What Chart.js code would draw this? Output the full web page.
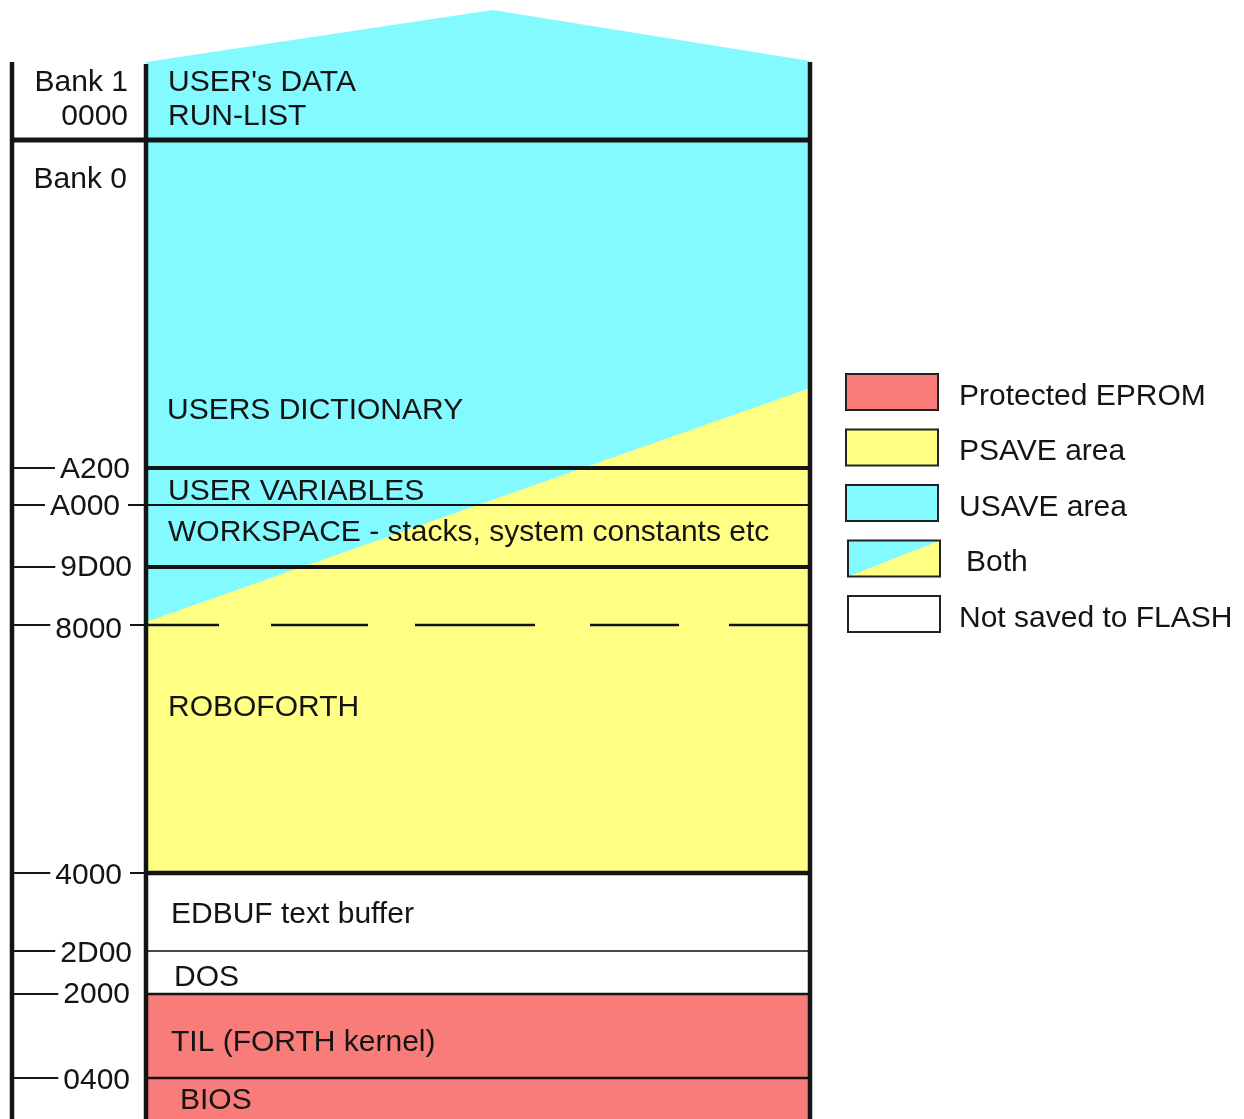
<!DOCTYPE html>
<html>
<head>
<meta charset="utf-8">
<title>Memory map</title>
<script src="https://cdn.jsdelivr.net/npm/chart.js@4.4.1/dist/chart.umd.min.js"></script>
<style>
  html, body { margin: 0; padding: 0; background: #ffffff; overflow: hidden; }
  canvas { display: block; }
</style>
</head>
<body>
<canvas id="map" width="1244" height="1119"></canvas>
<script>
// ---------------- DATA ----------------
// Vertical extents are in "diagram units" counted down from the top of the drawing
// (the memory map is not drawn to scale, so addresses cannot be used directly).
const regionNames   = [["USER's DATA", "RUN-LIST"], ["USERS DICTIONARY"], ["USER VARIABLES"],
                       ["WORKSPACE - stacks, system constants etc"], [], ["ROBOFORTH"],
                       ["EDBUF text buffer"], ["DOS"], ["TIL (FORTH kernel)"], ["BIOS"]];
const regionTop     = [62, 140, 468, 505, 567, 625, 873, 951, 994, 1078];
const regionBottom  = [140, 468, 505, 567, 625, 873, 951, 994, 1078, 1119];
const regionKind    = ["usave", "both", "both", "both", "both", "psave", "none", "none", "eprom", "eprom"];

const addressLabels = [["Bank 1", "0000"], ["Bank 0"], ["A200"], ["A000"], ["9D00"], ["8000"],
                       ["4000"], ["2D00"], ["2000"], ["0400"]];
const addressAt     = [62, 140, 468, 505, 567, 625, 873, 951, 994, 1078];

const legendLabels  = ["Protected EPROM", "PSAVE area", "USAVE area", "Both", "Not saved to FLASH"];
const legendKinds   = ["eprom", "psave", "usave", "both", "none"];

// USAVE / PSAVE split line: its height at the left and at the right edge of the column
const bothSplit     = [622, 388];
// top "torn" edge of bank 1: [fraction across column, height]
const roofPeak      = [0.522, 10];
const roofEnds      = [62, 61];

// ---------------- STYLE ----------------
const CYAN = "#82FAFF", YELLOW = "#FFFF84", RED = "#F87C7A", WHITE = "#FFFFFF", INK = "#141414";
const FONT_FAMILY = '"Liberation Sans", Arial, sans-serif';
const FONT_SIZE = 30;
const kindColor = { usave: CYAN, psave: YELLOW, eprom: RED, none: WHITE };

// boundary line styles (one per addressAt entry)
const lineStyle = [
  null,
  { w: 5, toAxis: true },
  { w: 4 },
  { w: 2 },
  { w: 4 },
  { w: 2.5, dash: [73, 52, 97, 47, 120, 55, 89, 50, 300] },
  { w: 4.5 },
  { w: 2, color: "#4a4a4a" },
  { w: 2.5 },
  { w: 2.5 }
];
// label text anchors (cap-centre heights) and indents inside the column
const regionTextY  = [[80, 114], [408], [489], [530], [], [705], [912], [975], [1040], [1098]];
const regionTextDx = [22, 21, 22, 22, 0, 22, 25, 28, 25, 34];
// address labels: right edge offset from column, cap-centre heights, right tick?
const addrRightGap = [18, 19, 16, 26, 14, 24, 24, 14, 16, 16];
const addrTextY    = [[80, 114], [177], [467], [504], [565], [627], [873], [951], [992], [1078]];
const addrRightTick = [false, false, false, true, false, true, true, false, false, false];

const AXIS_GAP = 134;          // distance from the left axis line to the column
const LEGEND = { dx: 36, top: 374, step: 55.5, boxW: 92, boxH: 36, textDx: 113 };

// ---------------- helpers ----------------
function splitGradient(ctx, x0, y0, x1, y1) {
  const dx = x1 - x0, dy = y1 - y0, len = Math.hypot(dx, dy);
  const nx = -dy / len, ny = dx / len;
  const mx = (x0 + x1) / 2, my = (y0 + y1) / 2, L = 3000;
  const g = ctx.createLinearGradient(mx - nx * L, my - ny * L, mx + nx * L, my + ny * L);
  g.addColorStop(0, CYAN); g.addColorStop(0.5, CYAN);
  g.addColorStop(0.5, YELLOW); g.addColorStop(1, YELLOW);
  return g;
}

function capY(y) { return y + FONT_SIZE * 0.358; } // cap-centre -> alphabetic baseline

const datasets = regionNames.map((name, i) => ({
  label: name.join(" ") || "9D00-8000",
  data: [[regionTop[i], regionBottom[i]]],
  backgroundColor: (c) => {
    const kind = regionKind[i];
    if (kind !== "both") return kindColor[kind];
    const ch = c.chart, area = ch.chartArea;
    if (!area) return CYAN;
    const ys = ch.scales.y;
    return splitGradient(ch.ctx, area.left, ys.getPixelForValue(bothSplit[0]),
                         area.right, ys.getPixelForValue(bothSplit[1]));
  },
  borderWidth: 0,
  barPercentage: 1,
  categoryPercentage: 1,
  grouped: false,
  inflateAmount: 0
}));

const memoryMapPlugin = {
  id: "memoryMap",
  beforeDatasetsDraw(chart) {
    const { ctx, chartArea: a, scales: { y } } = chart;
    // torn top of bank 1
    ctx.save();
    ctx.fillStyle = CYAN;
    ctx.beginPath();
    ctx.moveTo(a.left, y.getPixelForValue(roofEnds[0]));
    ctx.lineTo(a.left + roofPeak[0] * (a.right - a.left), y.getPixelForValue(roofPeak[1]));
    ctx.lineTo(a.right, y.getPixelForValue(roofEnds[1]));
    ctx.lineTo(a.right, y.getPixelForValue(regionTop[0]) + 1);
    ctx.lineTo(a.left, y.getPixelForValue(regionTop[0]) + 1);
    ctx.closePath();
    ctx.fill();
    ctx.restore();
  },
  afterDatasetsDraw(chart) {
    const { ctx, chartArea: a, scales: { y } } = chart;
    const axisX = a.left - AXIS_GAP;
    const topY = y.getPixelForValue(regionTop[0]);
    const botY = y.getPixelForValue(regionBottom[regionBottom.length - 1]);
    ctx.save();
    ctx.lineCap = "butt";

    // boundary lines
    addressAt.forEach((v, i) => {
      const st = lineStyle[i];
      if (!st) return;
      const py = y.getPixelForValue(v);
      ctx.strokeStyle = st.color || INK;
      ctx.lineWidth = st.w;
      ctx.setLineDash(st.dash || []);
      ctx.beginPath();
      ctx.moveTo(st.toAxis ? axisX : a.left, py);
      ctx.lineTo(a.right, py);
      ctx.stroke();
    });
    ctx.setLineDash([]);

    // vertical lines: address axis, column sides
    ctx.strokeStyle = INK;
    ctx.lineWidth = 4.5;
    [[axisX, topY], [a.left, topY + 2], [a.right, topY]].forEach(([x, t]) => {
      ctx.beginPath(); ctx.moveTo(x, t); ctx.lineTo(x, botY); ctx.stroke();
    });

    // region labels
    ctx.fillStyle = INK;
    ctx.font = `${FONT_SIZE}px ${FONT_FAMILY}`;
    ctx.textBaseline = "alphabetic";
    ctx.textAlign = "left";
    regionNames.forEach((lines, i) => {
      lines.forEach((t, k) => {
        ctx.fillText(t, a.left + regionTextDx[i], capY(regionTextY[i][k]));
      });
    });

    // address labels with tick marks
    ctx.textAlign = "right";
    addressLabels.forEach((lines, i) => {
      const right = a.left - addrRightGap[i];
      lines.forEach((t, k) => {
        ctx.fillText(t, right, capY(addrTextY[i][k]));
      });
      if (i < 2) return;
      const py = y.getPixelForValue(addressAt[i]);
      const w = ctx.measureText(lines[0]).width;
      ctx.lineWidth = 2;
      ctx.beginPath();
      ctx.moveTo(axisX, py);
      ctx.lineTo(right - w - 5, py);
      if (addrRightTick[i]) {
        ctx.moveTo(right + 8, py);
        ctx.lineTo(a.left, py);
      }
      ctx.stroke();
    });

    // legend
    const lx = a.right + LEGEND.dx;
    ctx.textAlign = "left";
    legendLabels.forEach((t, i) => {
      const by = LEGEND.top + i * LEGEND.step;
      const kind = legendKinds[i];
      const bx = lx + (i >= 3 ? 2 : 0);
      if (kind === "both") {
        ctx.fillStyle = splitGradient(ctx, bx, by + LEGEND.boxH, bx + LEGEND.boxW, by);
      } else {
        ctx.fillStyle = kindColor[kind];
      }
      ctx.fillRect(bx, by, LEGEND.boxW, LEGEND.boxH);
      ctx.strokeStyle = "#222";
      ctx.lineWidth = 2;
      ctx.strokeRect(bx, by, LEGEND.boxW, LEGEND.boxH);
      ctx.fillStyle = INK;
      ctx.fillText(t, lx + LEGEND.textDx + (kind === "both" ? 7 : 0), capY(by + LEGEND.boxH / 2 + 2));
    });
    ctx.restore();
  }
};

new Chart(document.getElementById("map"), {
  type: "bar",
  data: { labels: ["Memory"], datasets },
  options: {
    responsive: false,
    animation: false,
    devicePixelRatio: 1,
    layout: { padding: { left: 146, right: 434, top: 0, bottom: 0 } },
    plugins: { legend: { display: false }, tooltip: { enabled: false }, title: { display: false } },
    scales: {
      x: { display: false, offset: true },
      y: { display: false, reverse: true, min: 0, max: 1119, grace: 0 }
    }
  },
  plugins: [memoryMapPlugin]
});
</script>
</body>
</html>
